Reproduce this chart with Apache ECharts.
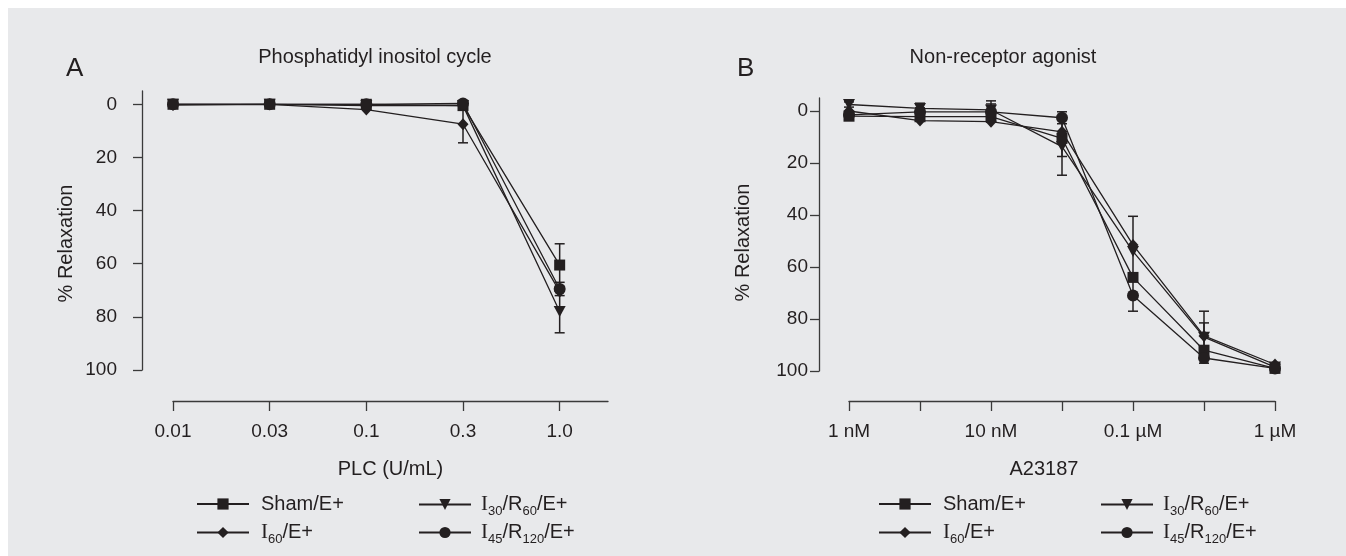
<!DOCTYPE html>
<html>
<head>
<meta charset="utf-8">
<script src="https://cdn.jsdelivr.net/npm/echarts@6/dist/echarts.min.js"></script>
<style>
  html, body { margin: 0; padding: 0; background: #fff; }
  #chart { width: 1346px; height: 556px; }
</style>
</head>
<body>
<div id="chart"></div>
<script>
// tick labels
var plcLabels = ['0.01', '0.03', '0.1', '0.3', '1.0'];
var a23Labels = ['1 nM', '', '10 nM', '', '0.1 µM', '', '1 µM'];
var yTicks = [0, 20, 40, 60, 80, 100];
var groupNames = ['Sham/E+', 'I60/E+', 'I30/R60/E+', 'I45/R120/E+'];

// A: PLC (U/mL), % relaxation
var plcSham = [0, 0, 0, 0.5, 60.5];
var plcI60 = [0.3, 0, 2, 7.5, 70.5];
var plcI30 = [0, 0, 0.5, 0.5, 78];
var plcI45 = [0, 0, 0, -0.3, 69.5];
var plcShamErr = [0, 0, 0, 0, 8];
var plcI60Err = [0, 0, 0, 7, 0];
var plcI30Err = [0, 0, 0, 0, 8];
var plcI45Err = [0, 0, 0, 0, 2.5];

// B: A23187, % relaxation
var a23Sham = [2, 2.2, 2.2, 10.5, 64, 92, 99];
var a23I60 = [0, 3.7, 4.1, 8, 51.5, 86.5, 97.5];
var a23I30 = [-2.5, -1, -0.4, 13.7, 54, 87, 98.5];
var a23I45 = [1.5, 0.3, 0.3, 2.6, 71, 95, 99];
var a23ShamErr = [0, 1.5, 2, 7, 0, 0, 0];
var a23I60Err = [0, 0, 0, 0, 11, 5, 0];
var a23I30Err = [1, 2, 3.5, 11, 0, 10, 0];
var a23I45Err = [1, 1.5, 3, 2.3, 6, 0, 0];

var ink = '#231f20';
var symbols = ['rect', 'diamond', 'path://M0,0L2,0L1,1.8Z', 'circle'];
var symbolSizes = [[11, 11], [11, 12], [12, 11], [12, 12]];
var richNames = {
  'Sham/E+': '{t|Sham/E+}',
  'I60/E+': '{i|I}{s|60}{t|/E+}',
  'I30/R60/E+': '{i|I}{s|30}{t|/R}{s|60}{t|/E+}',
  'I45/R120/E+': '{i|I}{s|45}{t|/R}{s|120}{t|/E+}'
};

var chart = echarts.init(document.getElementById('chart'));

function lineSeries(gridIdx, values, k) {
  return {
    type: 'line', name: groupNames[k], xAxisIndex: gridIdx, yAxisIndex: gridIdx,
    data: values.map(function (v, i) { return [i, v]; }),
    symbol: symbols[k], symbolSize: symbolSizes[k], showSymbol: true,
    lineStyle: { color: ink, width: 1.3 }, itemStyle: { color: ink },
    z: 3, silent: true
  };
}

function errSeries(gridIdx, values, errs) {
  var data = [];
  values.forEach(function (v, i) { if (errs[i] > 0) data.push([i, v, errs[i]]); });
  return {
    type: 'custom', xAxisIndex: gridIdx, yAxisIndex: gridIdx, z: 2, silent: true,
    data: data, encode: { x: 0, y: 1 },
    renderItem: function (params, api) {
      var x = api.value(0), y = api.value(1), e = api.value(2);
      var hi = api.coord([x, y - e]), lo = api.coord([x, y + e]);
      var st = { stroke: ink, lineWidth: 1.5 };
      return { type: 'group', children: [
        { type: 'line', shape: { x1: hi[0], y1: hi[1], x2: lo[0], y2: lo[1] }, style: st },
        { type: 'line', shape: { x1: hi[0] - 5, y1: hi[1], x2: hi[0] + 5, y2: hi[1] }, style: st },
        { type: 'line', shape: { x1: lo[0] - 5, y1: lo[1], x2: lo[0] + 5, y2: lo[1] }, style: st }
      ] };
    }
  };
}

// subscripts: padding on top pushes the small digits below the baseline
var textRich = {
  t: { fontSize: 20, fontFamily: 'Liberation Sans', color: ink, lineHeight: 28, verticalAlign: 'middle' },
  i: { fontSize: 21, fontFamily: 'Liberation Serif', color: ink, lineHeight: 28, verticalAlign: 'middle' },
  s: { fontSize: 13, fontFamily: 'Liberation Sans', color: ink, lineHeight: 14, padding: [14, 0, 0, 0], verticalAlign: 'middle' }
};

function legendItem(k, left, top, gap) {
  return {
    data: [groupNames[k]], left: left, top: top, padding: 0,
    itemWidth: 52, itemHeight: 14, selectedMode: false,
    formatter: function (n) { return richNames[n]; },
    textStyle: { padding: [0, 0, 0, gap], rich: textRich }
  };
}

function xAxisOf(gridIdx, max, ticks, labels, offset, padRight, name) {
  return {
    type: 'value', gridIndex: gridIdx, min: 0, max: max, offset: offset,
    name: name, nameLocation: 'middle', nameGap: 58,
    nameTextStyle: { fontSize: 20, fontFamily: 'Liberation Sans', color: ink, padding: [0, padRight, 0, 0] },
    splitLine: { show: false },
    axisLine: { show: true, onZero: false, lineStyle: { color: '#3a3a3a', width: 1.3 } },
    axisTick: { show: true, length: 10, customValues: ticks, lineStyle: { color: '#3a3a3a', width: 1.3 } },
    axisLabel: {
      customValues: ticks.filter(function (t) { return labels[t] !== ''; }),
      formatter: function (v) { return labels[v]; },
      margin: 21, fontSize: 19, fontFamily: 'Liberation Sans', color: ink
    }
  };
}

function yAxisOf(gridIdx, offset, labelMargin, namePad) {
  return {
    type: 'value', gridIndex: gridIdx, min: -5, max: 100, inverse: true, offset: offset,
    name: '% Relaxation', nameLocation: 'middle', nameGap: 66,
    nameTextStyle: { fontSize: 20, fontFamily: 'Liberation Sans', color: ink, padding: [0, namePad, 0, 0] },
    splitLine: { show: false },
    axisLine: { show: true, onZero: false, lineStyle: { color: '#3a3a3a', width: 1.3 } },
    axisTick: { show: true, length: 9, customValues: yTicks, lineStyle: { color: '#3a3a3a', width: 1.3 } },
    axisLabel: { customValues: yTicks, margin: labelMargin, fontSize: 19, fontFamily: 'Liberation Sans', color: ink }
  };
}

var plcAll = [plcSham, plcI60, plcI30, plcI45];
var plcErrAll = [plcShamErr, plcI60Err, plcI30Err, plcI45Err];
var a23All = [a23Sham, a23I60, a23I30, a23I45];
var a23ErrAll = [a23ShamErr, a23I60Err, a23I30Err, a23I45Err];

var series = [];
plcAll.forEach(function (v, k) { series.push(errSeries(0, v, plcErrAll[k])); });
a23All.forEach(function (v, k) { series.push(errSeries(1, v, a23ErrAll[k])); });
plcAll.forEach(function (v, k) { series.push(lineSeries(0, v, k)); });
a23All.forEach(function (v, k) { series.push(lineSeries(1, v, k)); });

var titleStyle = { fontSize: 20, fontWeight: 'normal', fontFamily: 'Liberation Sans', color: ink };
var letterStyle = { fontSize: 26, fontWeight: 'normal', fontFamily: 'Liberation Sans', color: ink };

chart.setOption({
  animation: false,
  backgroundColor: '#fff',
  graphic: [{ type: 'rect', left: 8, top: 8, shape: { width: 1338, height: 548 }, style: { fill: '#e8e9eb' }, z: -10 }],
  title: [
    { text: 'A', left: 66, top: 56, padding: 0, textStyle: letterStyle },
    { text: 'Phosphatidyl inositol cycle', left: 375, top: 47, padding: 0, textAlign: 'center', textStyle: titleStyle },
    { text: 'B', left: 737, top: 56, padding: 0, textStyle: letterStyle },
    { text: 'Non-receptor agonist', left: 1003, top: 47, padding: 0, textAlign: 'center', textStyle: titleStyle }
  ],
  grid: [
    { left: 173, top: 91, width: 435, height: 279 },
    { left: 849, top: 98, width: 426, height: 273 }
  ],
  xAxis: [
    xAxisOf(0, 4.5, [0, 1, 2, 3, 4], plcLabels, 31, 0, 'PLC (U/mL)'),
    xAxisOf(1, 6, [0, 1, 2, 3, 4, 5, 6], a23Labels, 30, 36, 'A23187')
  ],
  yAxis: [yAxisOf(0, 31, 25, 26), yAxisOf(1, 30, 11, 16)],
  legend: [
    legendItem(0, 196, 494, 7), legendItem(2, 418, 491, 5),
    legendItem(1, 196, 519, 7), legendItem(3, 418, 519, 5),
    legendItem(0, 878, 494, 7), legendItem(2, 1100, 491, 5),
    legendItem(1, 878, 519, 7), legendItem(3, 1100, 519, 5)
  ],
  series: series
});
</script>
</body>
</html>
